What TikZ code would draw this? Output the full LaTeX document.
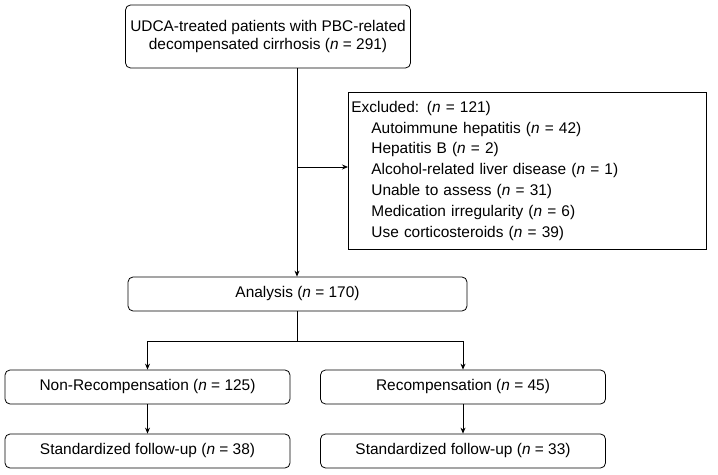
\documentclass[tikz,border=0pt]{standalone}
\usepackage{fontspec}
\setmainfont{Liberation Sans}
\usetikzlibrary{arrows.meta,positioning}
\newcommand{\ind}{\hspace*{20bp}}
\tikzset{
  box/.style={draw, rounded corners=5bp, minimum height=34bp, inner sep=4bp, line width=0.8pt, font=\fontsize{15.5}{19}\selectfont},
  exbox/.style={draw, align=left, inner sep=3bp, line width=0.8pt, font=\fontsize{15.5}{21}\selectfont},
  link/.style={-{Stealth[length=6bp,width=5bp]}, line width=0.8pt},
}
\begin{document}
\begin{tikzpicture}[x=1bp, y=-1bp]
  \useasboundingbox (0,0) rectangle (718,475);
  % top box
  \node[box, align=center, minimum width=285bp, minimum height=63bp] (start) at (268,36.5)
       {UDCA-treated patients with PBC-related\\decompensated cirrhosis (\textit{n} = 291)};
  % excluded
  \node[exbox, text width=352bp, minimum height=157bp, anchor=north west] (excl) at (348,92)
       {Excluded: (\textit{n} = 121)\\
        \ind Autoimmune hepatitis (\textit{n} = 42)\\
        \ind Hepatitis B (\textit{n} = 2)\\
        \ind Alcohol-related liver disease (\textit{n} = 1)\\
        \ind Unable to assess (\textit{n} = 31)\\
        \ind Medication irregularity (\textit{n} = 6)\\
        \ind Use corticosteroids (\textit{n} = 39)};
  \node[box, minimum width=339bp] (ana) at (297.5,294) {Analysis (\textit{n} = 170)};
  \node[box, minimum width=285bp] (nonrec) at (147.5,387) {Non-Recompensation (\textit{n} = 125)};
  \node[box, minimum width=285bp] (rec) at (463,387) {Recompensation (\textit{n} = 45)};
  \node[box, minimum width=285bp] (fu1) at (147.5,451) {Standardized follow-up (\textit{n} = 38)};
  \node[box, minimum width=285bp] (fu2) at (463,451) {Standardized follow-up (\textit{n} = 33)};

  \coordinate (split) at (297,167);
  \coordinate (fork) at (297,341);
  \draw[link] (start.south -| split) -- (ana.north -| split);
  \draw[link] (split) -- (split -| excl.west);
  \draw[line width=0.8pt] (ana.south -| fork) -- (fork);
  \draw[link] (fork) -| (nonrec.north);
  \draw[link] (fork) -| (rec.north);
  \draw[link] (nonrec) -- (fu1);
  \draw[link] (rec) -- (fu2);
\end{tikzpicture}
\end{document}
